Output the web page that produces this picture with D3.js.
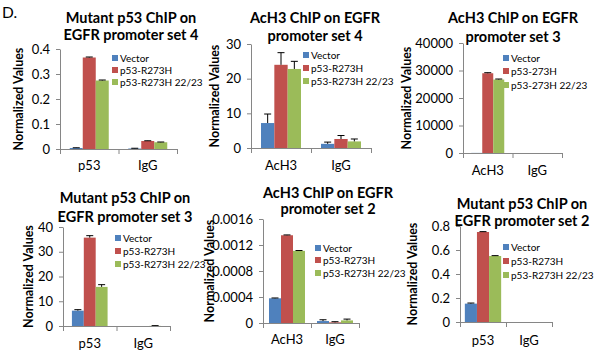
<!DOCTYPE html>
<html>
<head>
<meta charset="utf-8">
<script src="https://cdn.jsdelivr.net/npm/d3@7"></script>
<style>
  body { margin: 0; background: #fff; }
  svg { display: block; }
  text { font-family: Lato, "Open Sans", sans-serif; fill: #000; }
</style>
</head>
<body>
<svg id="chart" width="600" height="352"></svg>
<script>
// series names + colours (excel 2007 defaults)
const seriesNames = ["Vector", "p53-R273H", "p53-R273H 22/23"];
const seriesNamesSet3 = ["Vector", "p53-273H", "p53-273H 22/23"];
const colors = ["#4f81bd", "#c0504d", "#9bbb59"];

const catsP53 = ["p53", "IgG"];
const catsAcH3 = ["AcH3", "IgG"];

// values are [series][category], errors the same (plus direction only)
const mutSet4Vals = [[0.004, 0.002], [0.366, 0.032], [0.274, 0.027]];
const mutSet4Errs = [[0.001, 0.001], [0.002, 0.001], [0.002, 0.001]];
const mutSet4Ticks = [0, 0.1, 0.2, 0.3, 0.4];
const mutSet4Labels = ["0", "0.1", "0.2", "0.3", "0.4"];

const acSet4Vals = [[7.2, 1.2], [24.0, 2.6], [22.8, 1.9]];
const acSet4Errs = [[2.6, 0.5], [3.5, 1.0], [2.2, 0.7]];
const acSet4Ticks = [0, 10, 20, 30];
const acSet4Labels = ["0", "10", "20", "30"];

const acSet3Vals = [[40, 0], [29000, 0], [26700, 0]];
const acSet3Errs = [[0, 0], [200, 0], [200, 0]];
const acSet3Ticks = [0, 10000, 20000, 30000, 40000];
const acSet3Labels = ["0", "10000", "20000", "30000", "40000"];

const mutSet3Vals = [[6.2, 0], [35.7, 0], [15.8, 0.05]];
const mutSet3Errs = [[0.4, 0], [0.8, 0], [0.9, 0.1]];
const mutSet3Ticks = [0, 10, 20, 30, 40];
const mutSet3Labels = ["0", "10", "20", "30", "40"];

const acSet2Vals = [[0.00038, 0.00003], [0.00135, 0.00001], [0.00111, 0.00004]];
const acSet2Errs = [[0.000005, 0.00002], [0.000005, 0.00001], [0.000005, 0.00002]];
const acSet2Ticks = [0, 0.0004, 0.0008, 0.0012, 0.0016];
const acSet2Labels = ["0", "0.0004", "0.0008", "0.0012", "0.0016"];

const mutSet2Vals = [[0.153, 0], [0.75, 0], [0.55, 0]];
const mutSet2Errs = [[0.005, 0], [0.003, 0], [0.003, 0]];
const mutSet2Ticks = [0, 0.2, 0.4, 0.6, 0.8];
const mutSet2Labels = ["0", "0.2", "0.4", "0.6", "0.8"];

// layout of each small chart
const panels = [
  { title: ["Mutant p53 ChIP on", "EGFR promoter set 4"], tx: 131, ty: [18, 35],
    cats: catsP53, vals: mutSet4Vals, errs: mutSet4Errs, ticks: mutSet4Ticks, labels: mutSet4Labels,
    names: seriesNames, x0: 60, x1: 177, y0: 149, yTop: 49, gap: 1.5, ylx: 19, catY: 165,
    lx: 112, ly: [58, 70, 82] },
  { title: ["AcH3 ChIP on EGFR", "promoter set 4"], tx: 315, ty: [18, 36],
    cats: catsAcH3, vals: acSet4Vals, errs: acSet4Errs, ticks: acSet4Ticks, labels: acSet4Labels,
    names: seriesNames, x0: 251, x1: 371, y0: 148, yTop: 44, gap: 1.5, ylx: 215, catY: 165,
    lx: 303, ly: [55, 68, 81] },
  { title: ["AcH3 ChIP on EGFR", "promoter set 3"], tx: 513, ty: [18, 37],
    cats: catsAcH3, vals: acSet3Vals, errs: acSet3Errs, ticks: acSet3Ticks, labels: acSet3Labels,
    names: seriesNamesSet3, x0: 463, x1: 562, y0: 153, yTop: 43, gap: 1.5, ylx: 407, catY: 170,
    lx: 503, ly: [58, 71, 85] },
  { title: ["Mutant p53 ChIP on", "EGFR promoter set 3"], tx: 125, ty: [198, 217],
    cats: catsP53, vals: mutSet3Vals, errs: mutSet3Errs, ticks: mutSet3Ticks, labels: mutSet3Labels,
    names: seriesNames, x0: 63, x1: 170, y0: 326, yTop: 227, gap: 1.5, ylx: 29, catY: 343,
    lx: 115, ly: [238, 251, 264] },
  { title: ["AcH3 ChIP on EGFR", "promoter set 2"], tx: 328, ty: [193, 209],
    cats: catsAcH3, vals: acSet2Vals, errs: acSet2Errs, ticks: acSet2Ticks, labels: acSet2Labels,
    names: seriesNames, x0: 263, x1: 359, y0: 323, yTop: 219, gap: 1, ylx: 210, catY: 339,
    lx: 315, ly: [248, 260, 273] },
  { title: ["Mutant p53 ChIP on", "EGFR promoter set 2"], tx: 522, ty: [204, 221],
    cats: catsP53, vals: mutSet2Vals, errs: mutSet2Errs, ticks: mutSet2Ticks, labels: mutSet2Labels,
    names: seriesNames, x0: 460, x1: 552, y0: 322, yTop: 226, gap: 0.8, ylx: 413, catY: 340,
    lx: 503, ly: [247, 261, 275] }
];

const svg = d3.select("#chart");

svg.append("text")
  .attr("x", 2).attr("y", 18)
  .attr("font-size", 15.5)
  .text("D.");

panels.forEach(p => drawPanel(svg, p));

function drawPanel(svg, p) {
  const g = svg.append("g");

  const x = d3.scaleBand().domain(p.cats).range([p.x0, p.x1]);
  const bw = x.bandwidth() / (3 + p.gap);
  const xs = d3.scaleBand()
    .domain(d3.range(3))
    .range([(x.bandwidth() - 3 * bw) / 2, (x.bandwidth() + 3 * bw) / 2]);
  const y = d3.scaleLinear()
    .domain([0, p.ticks[p.ticks.length - 1]])
    .range([p.y0, p.yTop]);

  const rows = p.vals.flatMap((s, i) => s.map((v, j) => ({ s: i, c: p.cats[j], v, e: p.errs[i][j] })));

  // bars
  g.selectAll("rect.bar")
    .data(rows)
    .join("rect")
    .attr("class", "bar")
    .attr("x", d => x(d.c) + xs(d.s))
    .attr("width", xs.bandwidth())
    .attr("y", d => y(d.v))
    .attr("height", d => p.y0 - y(d.v))
    .attr("fill", d => colors[d.s]);

  // error bars, plus only
  const eb = g.selectAll("g.err")
    .data(rows.filter(d => d.e > 0))
    .join("g")
    .attr("class", "err")
    .attr("stroke", "#000")
    .attr("stroke-width", 1);
  eb.append("line")
    .attr("x1", d => x(d.c) + xs(d.s) + xs.bandwidth() / 2)
    .attr("x2", d => x(d.c) + xs(d.s) + xs.bandwidth() / 2)
    .attr("y1", d => y(d.v))
    .attr("y2", d => y(d.v + d.e));
  eb.append("line")
    .attr("x1", d => x(d.c) + xs(d.s) + xs.bandwidth() / 2 - 3.5)
    .attr("x2", d => x(d.c) + xs(d.s) + xs.bandwidth() / 2 + 3.5)
    .attr("y1", d => y(d.v + d.e))
    .attr("y2", d => y(d.v + d.e));

  // y axis
  const yAxis = g.append("g")
    .attr("transform", `translate(${p.x0},0)`)
    .call(d3.axisLeft(y)
      .tickValues(p.ticks)
      .tickFormat((d, i) => p.labels[i])
      .tickSize(4)
      .tickSizeOuter(0)
      .tickPadding(6));
  yAxis.selectAll("path, line").attr("stroke", "#868686");
  yAxis.selectAll("text")
    .attr("font-size", 13)
    .attr("font-family", "Lato, sans-serif");

  // x axis, ticks sit between categories
  g.append("line")
    .attr("x1", p.x0).attr("x2", p.x1)
    .attr("y1", p.y0 + 0.5).attr("y2", p.y0 + 0.5)
    .attr("stroke", "#868686");
  g.selectAll("line.xt")
    .data(p.cats.map(c => x(c)).concat([p.x1]))
    .join("line")
    .attr("class", "xt")
    .attr("x1", d => d + 0.5).attr("x2", d => d + 0.5)
    .attr("y1", p.y0).attr("y2", p.y0 + 5)
    .attr("stroke", "#868686");
  g.selectAll("text.cat")
    .data(p.cats)
    .join("text")
    .attr("class", "cat")
    .attr("x", d => x(d) + x.bandwidth() / 2)
    .attr("y", p.catY)
    .attr("dy", "0.35em")
    .attr("text-anchor", "middle")
    .attr("font-size", 13)
    .text(d => d);

  // axis title
  g.append("text")
    .attr("transform", `translate(${p.ylx},${(p.y0 + p.yTop) / 2}) rotate(-90)`)
    .attr("text-anchor", "middle")
    .attr("dy", "0.35em")
    .attr("font-size", 12.5)
    .attr("font-weight", "bold")
    .text("Normalized Values");

  // chart title
  g.selectAll("text.title")
    .data(p.title)
    .join("text")
    .attr("class", "title")
    .attr("x", p.tx)
    .attr("y", (d, i) => p.ty[i])
    .attr("dy", "0.35em")
    .attr("text-anchor", "middle")
    .attr("font-size", 14.5)
    .attr("font-weight", "bold")
    .text(d => d);

  // legend
  const lg = g.selectAll("g.leg")
    .data(p.names)
    .join("g")
    .attr("class", "leg")
    .attr("transform", (d, i) => `translate(${p.lx},${p.ly[i]})`);
  lg.append("rect")
    .attr("x", 0).attr("y", -3)
    .attr("width", 6).attr("height", 6)
    .attr("fill", (d, i) => colors[i]);
  lg.append("text")
    .attr("x", 8)
    .attr("dy", "0.35em")
    .attr("font-size", 10)
    .text(d => d);
}
</script>
</body>
</html>
